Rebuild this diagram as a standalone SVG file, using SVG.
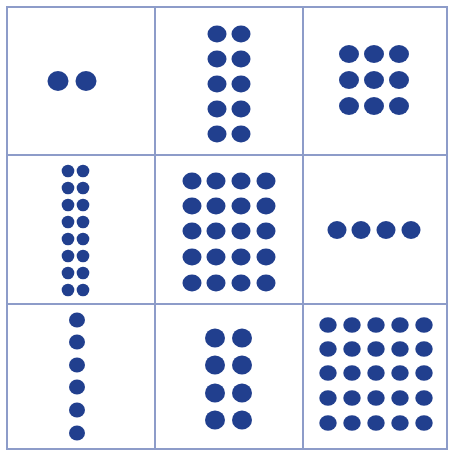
<svg xmlns="http://www.w3.org/2000/svg" width="449" height="452" viewBox="0 0 449 452">
<style>
.grid{fill:none;stroke:#8d9cc9;stroke-width:2}
.d{fill:#213f8e}
</style>
<rect width="449" height="452" fill="#fff"/>
<g id="grid">
<rect class="grid" x="7" y="7" width="440" height="442"/>
<line class="grid" x1="155" y1="7" x2="155" y2="449"/>
<line class="grid" x1="303" y1="7" x2="303" y2="449"/>
<line class="grid" x1="7" y1="155" x2="447" y2="155"/>
<line class="grid" x1="7" y1="304" x2="447" y2="304"/>
</g>
<g id="cell-1-1" class="d">
<ellipse cx="58" cy="81" rx="10.5" ry="10"/><ellipse cx="86" cy="81" rx="10.5" ry="10"/>
</g>
<g id="cell-1-2" class="d">
<ellipse cx="217" cy="34" rx="9.5" ry="8.5"/><ellipse cx="241" cy="34" rx="9.5" ry="8.5"/>
<ellipse cx="217" cy="59" rx="9.5" ry="8.5"/><ellipse cx="241" cy="59" rx="9.5" ry="8.5"/>
<ellipse cx="217" cy="84" rx="9.5" ry="8.5"/><ellipse cx="241" cy="84" rx="9.5" ry="8.5"/>
<ellipse cx="217" cy="109" rx="9.5" ry="8.5"/><ellipse cx="241" cy="109" rx="9.5" ry="8.5"/>
<ellipse cx="217" cy="134" rx="9.5" ry="8.5"/><ellipse cx="241" cy="134" rx="9.5" ry="8.5"/>
</g>
<g id="cell-1-3" class="d">
<ellipse cx="349" cy="54" rx="10" ry="9"/><ellipse cx="374" cy="54" rx="10" ry="9"/><ellipse cx="399" cy="54" rx="10" ry="9"/>
<ellipse cx="349" cy="80" rx="10" ry="9"/><ellipse cx="374" cy="80" rx="10" ry="9"/><ellipse cx="399" cy="80" rx="10" ry="9"/>
<ellipse cx="349" cy="106" rx="10" ry="9"/><ellipse cx="374" cy="106" rx="10" ry="9"/><ellipse cx="399" cy="106" rx="10" ry="9"/>
</g>
<g id="cell-2-1" class="d">
<circle cx="68" cy="171" r="6.3"/><circle cx="83" cy="171" r="6.3"/>
<circle cx="68" cy="188" r="6.3"/><circle cx="83" cy="188" r="6.3"/>
<circle cx="68" cy="205" r="6.3"/><circle cx="83" cy="205" r="6.3"/>
<circle cx="68" cy="222" r="6.3"/><circle cx="83" cy="222" r="6.3"/>
<circle cx="68" cy="239" r="6.3"/><circle cx="83" cy="239" r="6.3"/>
<circle cx="68" cy="256" r="6.3"/><circle cx="83" cy="256" r="6.3"/>
<circle cx="68" cy="273" r="6.3"/><circle cx="83" cy="273" r="6.3"/>
<circle cx="68" cy="290" r="6.3"/><circle cx="83" cy="290" r="6.3"/>
</g>
<g id="cell-2-2" class="d">
<ellipse cx="192" cy="181" rx="9.5" ry="8.5"/><ellipse cx="216" cy="181" rx="9.5" ry="8.5"/><ellipse cx="241" cy="181" rx="9.5" ry="8.5"/><ellipse cx="266" cy="181" rx="9.5" ry="8.5"/>
<ellipse cx="192" cy="206" rx="9.5" ry="8.5"/><ellipse cx="216" cy="206" rx="9.5" ry="8.5"/><ellipse cx="241" cy="206" rx="9.5" ry="8.5"/><ellipse cx="266" cy="206" rx="9.5" ry="8.5"/>
<ellipse cx="192" cy="231" rx="9.5" ry="8.5"/><ellipse cx="216" cy="231" rx="9.5" ry="8.5"/><ellipse cx="241" cy="231" rx="9.5" ry="8.5"/><ellipse cx="266" cy="231" rx="9.5" ry="8.5"/>
<ellipse cx="192" cy="257" rx="9.5" ry="8.5"/><ellipse cx="216" cy="257" rx="9.5" ry="8.5"/><ellipse cx="241" cy="257" rx="9.5" ry="8.5"/><ellipse cx="266" cy="257" rx="9.5" ry="8.5"/>
<ellipse cx="192" cy="283" rx="9.5" ry="8.5"/><ellipse cx="216" cy="283" rx="9.5" ry="8.5"/><ellipse cx="241" cy="283" rx="9.5" ry="8.5"/><ellipse cx="266" cy="283" rx="9.5" ry="8.5"/>
</g>
<g id="cell-2-3" class="d">
<ellipse cx="337" cy="230" rx="9.5" ry="9"/><ellipse cx="361" cy="230" rx="9.5" ry="9"/><ellipse cx="386" cy="230" rx="9.5" ry="9"/><ellipse cx="411" cy="230" rx="9.5" ry="9"/>
</g>
<g id="cell-3-1" class="d">
<ellipse cx="77" cy="320" rx="8" ry="7.5"/><ellipse cx="77" cy="342" rx="8" ry="7.5"/><ellipse cx="77" cy="365" rx="8" ry="7.5"/>
<ellipse cx="77" cy="387" rx="8" ry="7.5"/><ellipse cx="77" cy="410" rx="8" ry="7.5"/><ellipse cx="77" cy="433" rx="8" ry="7.5"/>
</g>
<g id="cell-3-2" class="d">
<ellipse cx="215" cy="338" rx="10" ry="9.5"/><ellipse cx="242" cy="338" rx="10" ry="9.5"/>
<ellipse cx="215" cy="365" rx="10" ry="9.5"/><ellipse cx="242" cy="365" rx="10" ry="9.5"/>
<ellipse cx="215" cy="393" rx="10" ry="9.5"/><ellipse cx="242" cy="393" rx="10" ry="9.5"/>
<ellipse cx="215" cy="420" rx="10" ry="9.5"/><ellipse cx="242" cy="420" rx="10" ry="9.5"/>
</g>
<g id="cell-3-3" class="d">
<ellipse cx="328" cy="325" rx="8.7" ry="7.8"/><ellipse cx="352" cy="325" rx="8.7" ry="7.8"/><ellipse cx="376" cy="325" rx="8.7" ry="7.8"/><ellipse cx="400" cy="325" rx="8.7" ry="7.8"/><ellipse cx="424" cy="325" rx="8.7" ry="7.8"/>
<ellipse cx="328" cy="349" rx="8.7" ry="7.8"/><ellipse cx="352" cy="349" rx="8.7" ry="7.8"/><ellipse cx="376" cy="349" rx="8.7" ry="7.8"/><ellipse cx="400" cy="349" rx="8.7" ry="7.8"/><ellipse cx="424" cy="349" rx="8.7" ry="7.8"/>
<ellipse cx="328" cy="373" rx="8.7" ry="7.8"/><ellipse cx="352" cy="373" rx="8.7" ry="7.8"/><ellipse cx="376" cy="373" rx="8.7" ry="7.8"/><ellipse cx="400" cy="373" rx="8.7" ry="7.8"/><ellipse cx="424" cy="373" rx="8.7" ry="7.8"/>
<ellipse cx="328" cy="398" rx="8.7" ry="7.8"/><ellipse cx="352" cy="398" rx="8.7" ry="7.8"/><ellipse cx="376" cy="398" rx="8.7" ry="7.8"/><ellipse cx="400" cy="398" rx="8.7" ry="7.8"/><ellipse cx="424" cy="398" rx="8.7" ry="7.8"/>
<ellipse cx="328" cy="423" rx="8.7" ry="7.8"/><ellipse cx="352" cy="423" rx="8.7" ry="7.8"/><ellipse cx="376" cy="423" rx="8.7" ry="7.8"/><ellipse cx="400" cy="423" rx="8.7" ry="7.8"/><ellipse cx="424" cy="423" rx="8.7" ry="7.8"/>
</g>
</svg>
